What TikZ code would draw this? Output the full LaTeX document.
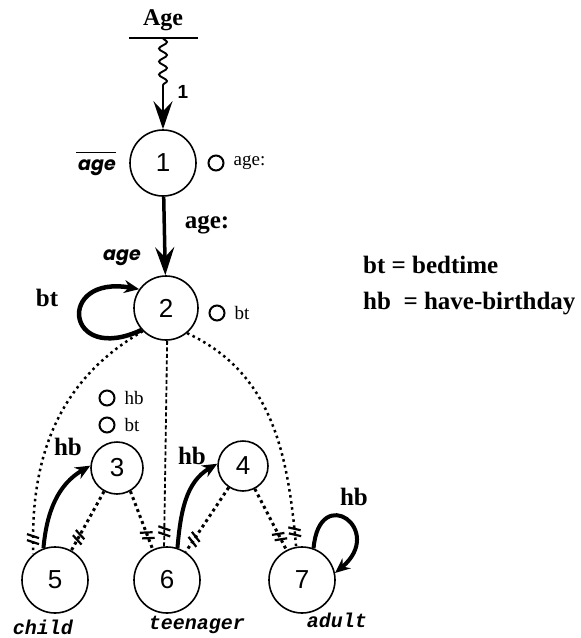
\documentclass[tikz,border=0pt]{standalone}
\usepackage{fontspec}
\setmainfont{Liberation Serif}
\newfontfamily\digitfont{Liberation Sans}
\newfontfamily\tagfont{Poppins}
\newfontfamily\kindfont{Liberation Mono}
\usetikzlibrary{positioning, arrows.meta, decorations.pathmorphing, decorations.markings}
\tikzset{
	statenode/.style={
			circle,
			draw=black,
			line width=1.6pt,
			fill=white,
			minimum size=66pt,
			inner sep=0pt,
			font=\digitfont\fontsize{26}{26}\selectfont
		},
	smallstatenode/.style={
			statenode,
			minimum size=52pt
		},
	eventnode/.style={
			circle,
			draw=black,
			line width=2pt,
			minimum size=15pt,
			inner sep=0pt
		},
	eventtext/.style={
			font=\fontsize{19}{19}\selectfont,
			inner sep=0pt
		},
	boldlabel/.style={
			font=\bfseries\fontsize{25}{25}\selectfont,
			inner sep=0pt
		},
	taglabel/.style={
			font=\tagfont\bfseries\itshape\fontsize{19}{19}\selectfont,
			inner sep=0pt
		},
	kindlabel/.style={
			font=\kindfont\bfseries\itshape\fontsize{20}{20}\selectfont,
			inner sep=0pt
		},
	hashend/.style={
			postaction={decorate},
			decoration={markings,
				mark=at position -14pt with {
					\draw[solid, line width=2.2pt] (-6pt,-6pt) -- (-2pt,6pt) (0pt,-6pt) -- (4pt,6pt);
				}}
		},
	dottedlink/.style={line width=3pt, dash pattern=on 3pt off 3.4pt, hashend},
	dottedarc/.style={line width=2.5pt, dash pattern=on 2.5pt off 3.6pt, hashend},
	dashedlink/.style={line width=1.8pt, dash pattern=on 4pt off 2.5pt, hashend},
	flow/.style={line width=4pt, -{Stealth[length=15pt, width=13pt, inset=5pt]}},
	bigflow/.style={-{Stealth[length=28pt, width=19pt, inset=10pt]}}
}

\begin{document}
\begin{tikzpicture}[x=1pt, y=1pt]
\useasboundingbox (0,0) rectangle (581,-638);

% top event
\node[font=\bfseries\fontsize{24}{24}\selectfont] (agehead) at (163,-20) {Age};
\coordinate (barl) at (129,-38);
\coordinate (barr) at (198,-38);
\coordinate (agein) at (163,-38);
\draw[line width=1.6pt] (barl) -- (barr);

% states
\node[statenode] (n1) at (163,-163) {1};
\node[statenode, minimum size=64pt] (n2) at (166,-308) {2};
\node[smallstatenode] (n3) at (117,-468) {3};
\node[smallstatenode, minimum size=50pt] (n4) at (243,-466) {4};
\node[statenode] (n5) at (55,-580) {5};
\node[statenode] (n6) at (167,-580) {6};
\node[statenode] (n7) at (302,-580) {7};

% events waiting on the states
\node[eventnode] (e1) at (216,-163) {};
\node[eventtext, right=9pt of e1] (e1text) {age:};
\node[eventnode] (e2) at (217,-313) {};
\node[eventtext, right=9pt of e2] (e2text) {bt};
\node[eventnode] (e3) at (107,-398) {};
\node[eventtext, right=9pt of e3] (e3text) {hb};
\node[eventnode] (e4) at (107,-425) {};
\node[eventtext, right=9pt of e4] (e4text) {bt};

% labels
\node[font=\digitfont\bfseries\fontsize{19}{19}\selectfont] (w1) at (183,-92) {1};
\node[taglabel] (notage) at (97,-168) {age};
\draw[line width=1.2pt] ([shift={(-2pt,7pt)}]notage.north west) -- ([shift={(0pt,7pt)}]notage.north east);
\node[boldlabel] (l12) at (207,-225) {age:};
\node[taglabel] (tag2) at (122,-258) {age};
\node[boldlabel] (l22) at (47,-298) {bt};
\node[boldlabel] (l53) at (68,-447) {hb};
\node[boldlabel] (l64) at (192,-456) {hb};
\node[boldlabel] (l77) at (354,-497) {hb};
\node[kindlabel] (k5) at (43,-627) {child};
\node[kindlabel] (k6) at (197,-625) {teenager};
\node[kindlabel] (k7) at (337,-620) {adult};

% key
\node[boldlabel, anchor=base west] (keybt) at (363,-273) {bt = bedtime};
\node[boldlabel, anchor=base west] (keyhb) at (363,-309) {hb\ \ = have-birthday};

% transitions
\draw[line width=1.9pt, bigflow, decorate, decoration={snake, amplitude=4pt, segment length=13pt, post length=40pt}] (agein) -- (n1);
\draw[line width=3.5pt, bigflow] (n1) -- (n2);
\draw[flow, line width=4.5pt] (n2.222) to[out=205, in=170, looseness=5.3] (n2.145);
\draw[flow] (n5.110) to[out=85, in=210] (n3.175);
\draw[flow] (n6.72) to[out=85, in=210] (n4.175);
\draw[flow] (n7.70) to[out=85, in=40, looseness=5.2] (n7.12);

% history links
\draw[dottedarc] (n2.225) to[out=210, in=92] (n5.130);
\draw[dashedlink] (n2.272) -- (n6.95);
\draw[dottedarc] (n2.310) to[out=-25, in=95] (n7.100);
\draw[dottedlink] (n3) -- (n5);
\draw[dottedlink] (n3.300) -- (n6.115);
\draw[dottedlink] (n4) -- (n6);
\draw[dottedlink] (n4) -- (n7);
\end{tikzpicture}
\end{document}
